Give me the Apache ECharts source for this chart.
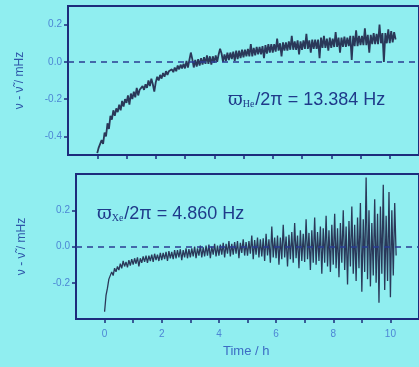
<!DOCTYPE html>
<html>
<head>
<meta charset="utf-8">
<style>
  html, body { margin: 0; padding: 0; background: #90eef0; }
  #main { width: 419px; height: 367px; }
</style>
<script src="https://cdn.jsdelivr.net/npm/echarts@6/dist/echarts.min.js"></script>
</head>
<body>
<div id="main"></div>
<script>
// 采样步长 (h)
const step = 0.05;

// He 频率偏差 (mHz)
const heValues = [
  -0.49, -0.46, -0.47, -0.42, -0.44, -0.38, -0.40, -0.33, -0.36, -0.29,
  -0.31, -0.26, -0.29, -0.25, -0.27, -0.23, -0.26, -0.21, -0.24, -0.20,
  -0.22, -0.18, -0.23, -0.17, -0.20, -0.16, -0.19, -0.14, -0.18, -0.15,
  -0.16, -0.13, -0.15, -0.12, -0.14, -0.10, -0.13, -0.09, -0.12, -0.16,
  -0.11, -0.08, -0.10, -0.07, -0.09, -0.06, -0.08, -0.05, -0.07, -0.05,
  -0.06, -0.04, -0.055, -0.03, -0.05, -0.02, -0.04, -0.015, -0.035, -0.01,
  -0.035, 0.005, -0.03, 0.01, 0.05, 0.015, -0.03, 0.01, -0.025, 0.015,
  -0.02, 0.02, -0.015, 0.025, -0.01, 0.035, -0.01, 0.03, -0.015, 0.03,
  -0.005, 0.035, 0.0, 0.04, 0.07, 0.045, 0.0, 0.04, 0.005, 0.05,
  0.01, 0.05, 0.015, 0.055, 0.005, 0.06, 0.015, 0.06, 0.02, 0.065,
  0.025, 0.065, 0.03, 0.07, 0.03, 0.095, 0.03, 0.075, 0.035, 0.08,
  0.04, 0.08, 0.04, 0.085, 0.02, 0.09, 0.045, 0.095, 0.05, 0.095,
  0.05, 0.095, 0.055, 0.125, 0.06, 0.10, 0.03, 0.105, 0.06, 0.105,
  0.06, 0.11, 0.065, 0.14, 0.065, 0.11, 0.065, 0.115, 0.04, 0.11,
  0.065, 0.115, 0.07, 0.15, 0.07, 0.115, 0.05, 0.12, 0.07, 0.12,
  0.07, 0.12, 0.02, 0.13, 0.075, 0.14, 0.075, 0.125, 0.06, 0.13,
  0.075, 0.125, 0.08, 0.16, 0.08, 0.13, 0.05, 0.13, 0.08, 0.135,
  0.08, 0.13, 0.085, 0.14, 0.01, 0.14, 0.085, 0.17, 0.085, 0.14,
  0.09, 0.14, 0.09, 0.18, 0.09, 0.145, 0.05, 0.145, 0.095, 0.155,
  0.095, 0.15, 0.095, 0.20, 0.10, 0.155, 0.0, 0.155, 0.10, 0.175,
  0.10, 0.165, 0.105, 0.16, 0.12
];

// Xe 频率偏差 (mHz)
const xeValues = [
  -0.36, -0.27, -0.23, -0.18, -0.19, -0.14, -0.16, -0.12, -0.14, -0.11,
  -0.13, -0.095, -0.12, -0.08, -0.11, -0.085, -0.115, -0.075, -0.105, -0.07,
  -0.10, -0.065, -0.095, -0.06, -0.11, -0.065, -0.09, -0.055, -0.085, -0.05,
  -0.09, -0.05, -0.08, -0.045, -0.085, -0.04, -0.075, -0.045, -0.08, -0.035,
  -0.075, -0.035, -0.07, -0.03, -0.08, -0.025, -0.065, -0.03, -0.07, -0.02,
  -0.065, -0.02, -0.06, -0.015, -0.075, -0.02, -0.06, -0.01, -0.065, -0.015,
  -0.06, -0.01, -0.055, 0.0, -0.065, -0.01, -0.05, 0.005, -0.06, -0.005,
  -0.055, 0.005, -0.05, 0.01, -0.065, 0.0, -0.045, 0.015, -0.055, 0.005,
  -0.05, 0.01, -0.045, 0.02, -0.06, 0.015, -0.04, 0.03, -0.055, 0.015,
  -0.045, 0.025, -0.04, 0.03, -0.065, 0.02, -0.035, 0.04, -0.05, 0.025,
  -0.05, 0.03, -0.04, 0.06, -0.07, 0.035, -0.045, 0.05, -0.06, 0.04,
  -0.055, 0.045, -0.08, 0.07, -0.05, 0.04, -0.09, 0.11, -0.06, 0.05,
  -0.065, 0.06, -0.10, 0.05, -0.07, 0.12, -0.06, 0.055, -0.11, 0.065,
  -0.07, 0.08, -0.09, 0.13, -0.065, 0.06, -0.12, 0.09, -0.08, 0.07,
  -0.085, 0.15, -0.07, 0.075, -0.13, 0.09, -0.09, 0.16, -0.10, 0.08,
  -0.08, 0.11, -0.15, 0.10, -0.09, 0.17, -0.11, 0.09, -0.14, 0.12,
  -0.10, 0.18, -0.12, 0.10, -0.17, 0.13, -0.09, 0.20, -0.13, 0.11,
  -0.21, 0.14, -0.11, 0.22, -0.15, 0.12, -0.19, 0.16, -0.12, 0.24,
  -0.25, 0.15, -0.14, 0.38, -0.18, 0.20, -0.22, 0.13, -0.16, 0.26,
  -0.20, 0.18, -0.31, 0.22, -0.15, 0.34, -0.24, 0.17, -0.19, 0.30,
  -0.28, 0.20, -0.16, 0.24, -0.05
];

const heTicks = [-0.4, -0.2, 0.0, 0.2];
const xeTicks = [-0.2, 0.0, 0.2];
const timeTicks = [0, 1, 2, 3, 4, 5, 6, 7, 8, 9, 10];
const timeLabels = [0, 2, 4, 6, 8, 10];

const axisColor = '#1d2c7c';
const tickTextColor = '#4d86d4';
const lineColor = '#2a3859';
const noteColor = '#1f3a8a';

function toPairs(vals) {
  return vals.map((v, i) => [+(i * step).toFixed(2), v]);
}

function yAxis(idx, min, max, ticks, gap) {
  return {
    gridIndex: idx,
    type: 'value',
    min: min,
    max: max,
    name: 'ν - ν̃ / mHz',
    nameLocation: 'middle',
    nameGap: gap,
    nameRotate: 90,
    nameTextStyle: { color: '#2f56a8', fontSize: 12, fontFamily: 'Liberation Sans' },
    axisLine: { show: true, onZero: false, lineStyle: { color: axisColor, width: 2 } },
    axisTick: { show: true, length: 4, customValues: ticks, lineStyle: { color: axisColor, width: 1.5 } },
    axisLabel: {
      customValues: ticks,
      color: tickTextColor, fontSize: 10, margin: 6, fontFamily: 'Liberation Sans',
      formatter: v => v.toFixed(1)
    },
    splitLine: { show: false }
  };
}

function xAxis(idx, showLabel) {
  return {
    gridIndex: idx,
    type: 'value',
    min: -1,
    max: 11,
    axisLine: { show: true, onZero: false, lineStyle: { color: axisColor, width: 2 } },
    axisTick: { show: true, length: 4, customValues: timeTicks, lineStyle: { color: axisColor, width: 1.5 } },
    axisLabel: {
      show: showLabel,
      customValues: timeLabels,
      color: tickTextColor, fontSize: 10, margin: 10, fontFamily: 'Liberation Sans'
    },
    splitLine: { show: false }
  };
}

function series(idx, vals, width) {
  return {
    type: 'line',
    xAxisIndex: idx,
    yAxisIndex: idx,
    data: toPairs(vals),
    showSymbol: false,
    sampling: 'none',
    animation: false,
    lineStyle: { color: lineColor, width: width },
    markLine: {
      silent: true,
      symbol: 'none',
      animation: false,
      label: { show: false },
      lineStyle: { color: '#2a3c92', width: 1.5, type: [6, 5] },
      data: [{ yAxis: 0 }]
    },
    z: 3
  };
}

function note(text, sub, left, top) {
  return {
    type: 'text', left: left, top: top, z: 10,
    style: {
      text: '{w|ϖ}{s|' + sub + '}{n|' + text + '}',
      rich: {
        w: { fontSize: 18, fontFamily: 'DejaVu Serif', fill: noteColor },
        s: { fontSize: 10, fontFamily: 'Liberation Serif', fill: noteColor, padding: [9, 1, 0, 0] },
        n: { fontSize: 18, fontFamily: 'Liberation Sans', fill: noteColor }
      }
    }
  };
}

const option = {
  backgroundColor: '#90eef0',
  animation: false,
  grid: [
    { left: 68, top: 6, width: 352, height: 149, show: true, borderColor: axisColor, borderWidth: 2 },
    { left: 76, top: 174, width: 352, height: 145, show: true, borderColor: axisColor, borderWidth: 2 }
  ],
  xAxis: [xAxis(0, false), xAxis(1, true)],
  yAxis: [yAxis(0, -0.5, 0.3, heTicks, 42), yAxis(1, -0.4, 0.4, xeTicks, 48)],
  series: [series(0, heValues, 1.8), series(1, xeValues, 1.3)],
  graphic: [
    note('/2π = 13.384 Hz', 'He', 228, 91),
    note('/2π = 4.860 Hz', 'Xe', 97, 205),
    {
      type: 'text', left: 223, top: 345, z: 10,
      style: { text: 'Time / h', fontSize: 13, fontFamily: 'Liberation Sans', fill: '#3c6cc4' }
    }
  ]
};

const myChart = echarts.init(document.getElementById('main'));
myChart.setOption(option);
window.addEventListener('resize', () => {
  myChart.resize();
});
</script>
</body>
</html>
